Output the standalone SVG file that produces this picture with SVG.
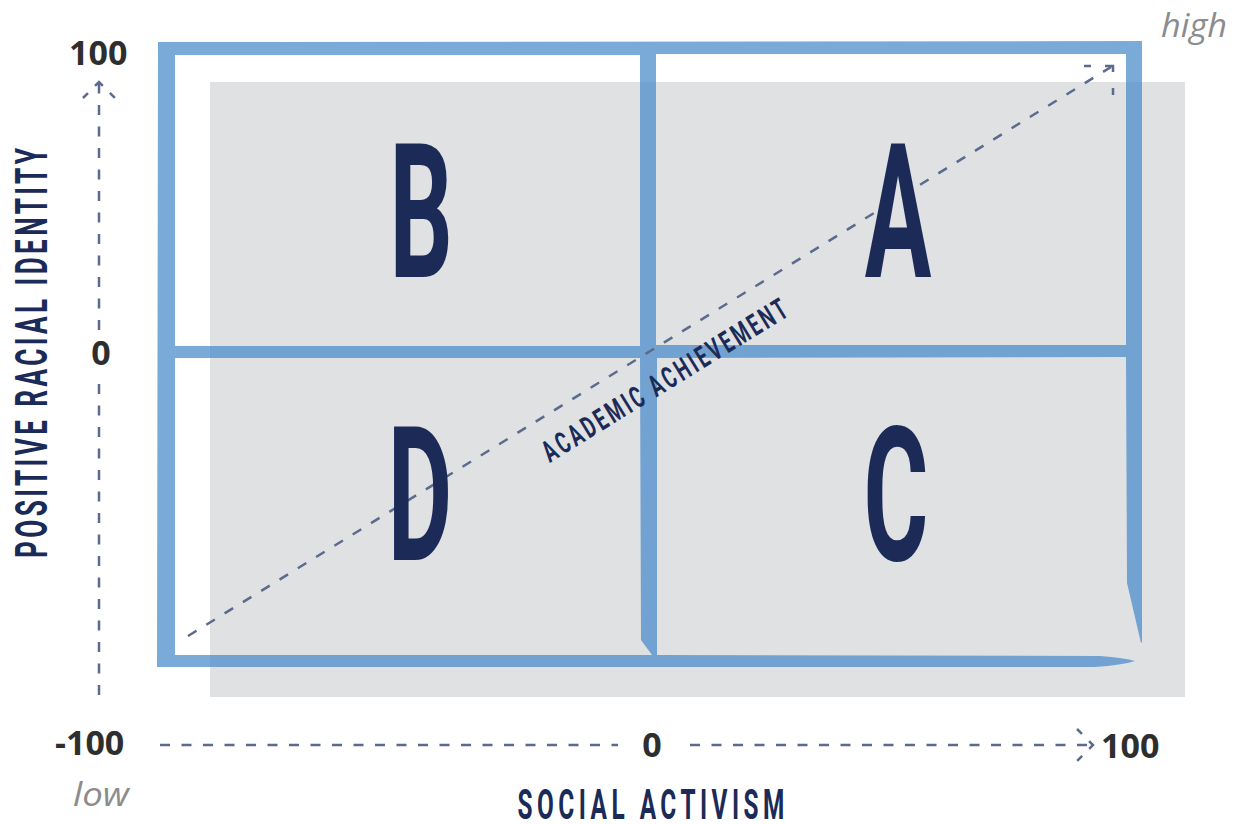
<svg xmlns="http://www.w3.org/2000/svg" width="1238" height="824" viewBox="0 0 1238 824">
  <style>
    .num { font-family: "Open Sans", "Liberation Sans", sans-serif; font-weight: 700; font-size: 34px; fill: #2e2e2e; }
    .hint { font-family: "Open Sans", "Liberation Sans", sans-serif; font-style: italic; font-size: 32px; fill: #8c8c8c; }
    .cond { font-family: Roboto, "Liberation Sans", sans-serif; font-weight: 700; fill: #1b2a57; }
    .quad { font-size: 187px; }
    .dash { fill: none; stroke: #5b6a8e; stroke-width: 2.5; stroke-dasharray: 10 11.5; }
    .head { fill: none; stroke: #5b6a8e; stroke-width: 2.5; }
  </style>

  <!-- shaded field -->
  <rect id="field" x="210" y="82" width="975" height="615" fill="#e0e1e3"/>

  <!-- hand-drawn quadrant frame -->
  <g id="frame" opacity="0.74" fill="#4b8cca">
    <path d="M158,42 L1142,41 L1142,54 L656,54 L656,345 L1126,345 L1126,54 L1142,54 L1142,642 L1141,643 L1127,583 L1126,357 L657,358 L657,655 L1100,656 Q1125,658 1135,661 Q1122,665 1095,667 L157,667 Z M175,55 L175,346 L640,346 L640,55 Z M175,358 L175,655 L652,655 L641,640 L640,358 Z" fill-rule="evenodd"/>
  </g>

  <!-- axes and diagonal -->
  <g id="connectors">
    <line class="dash" x1="99" y1="330" x2="99" y2="84"/>
    <line class="dash" x1="99" y1="695" x2="99" y2="378"/>
    <polyline class="head" points="83,98 99,82 115,98" stroke-dasharray="7 10 11 10 7"/>

    <line class="dash" x1="160" y1="745" x2="618" y2="745"/>
    <line class="dash" x1="690" y1="745" x2="1092" y2="745"/>
    <polyline class="head" points="1077,729 1093,745 1077,761" stroke-dasharray="7 10 11 10 7"/>

    <line class="dash" x1="188" y1="636" x2="1111" y2="67"/>
    <polyline class="head" points="1084,66 1113,66 1113,95" stroke-dasharray="7 14 14 16 7"/>
  </g>

  <!-- quadrant letters -->
  <g id="quadrant-b"><text class="cond quad" text-anchor="middle" transform="translate(421,277) scale(0.53,1)">B</text></g>
  <g id="quadrant-a"><text class="cond quad" text-anchor="middle" transform="translate(898,277) scale(0.53,1)">A</text></g>
  <g id="quadrant-d"><text class="cond quad" text-anchor="middle" transform="translate(420,560) scale(0.53,1)">D</text></g>
  <g id="quadrant-c"><text class="cond quad" text-anchor="middle" transform="translate(896,560) scale(0.53,1)">C</text></g>

  <!-- axis titles -->
  <g id="y-title">
    <text class="cond" font-size="45" text-anchor="middle" textLength="707" lengthAdjust="spacing" transform="translate(47,353) rotate(-90) scale(0.58,1)">POSITIVE RACIAL IDENTITY</text>
  </g>
  <g id="x-title">
    <text class="cond" font-size="42" text-anchor="middle" textLength="460" lengthAdjust="spacing" transform="translate(651,819) scale(0.58,1)">SOCIAL ACTIVISM</text>
  </g>
  <g id="diagonal-title">
    <text class="cond" font-size="30" font-weight="900" text-anchor="middle" textLength="455" lengthAdjust="spacing" transform="translate(670,389) rotate(-31.6) scale(0.62,1)">ACADEMIC ACHIEVEMENT</text>
  </g>

  <!-- scale values -->
  <g id="scale-labels">
    <text class="num" x="69" y="65">100</text>
    <text class="num" x="101" y="365" text-anchor="middle">0</text>
    <text class="num" x="55" y="755">-100</text>
    <text class="num" x="652" y="757" text-anchor="middle">0</text>
    <text class="num" x="1101" y="758">100</text>
    <text class="hint" x="1161" y="37" textLength="66" lengthAdjust="spacingAndGlyphs">high</text>
    <text class="hint" x="73" y="806" textLength="56" lengthAdjust="spacingAndGlyphs">low</text>
  </g>
</svg>
